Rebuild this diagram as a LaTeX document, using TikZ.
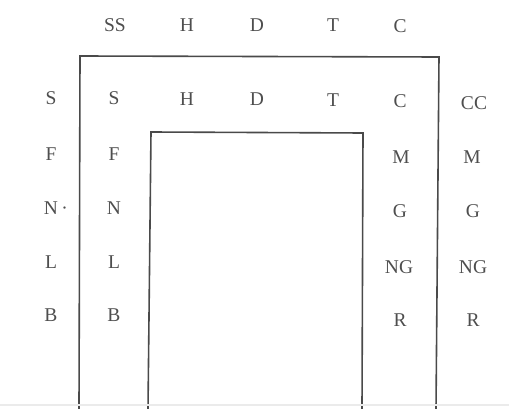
\documentclass[tikz,border=0pt]{standalone}
\usepackage{fontspec}
\setmainfont{Liberation Serif}
\definecolor{ink}{HTML}{4E4E4E}
\definecolor{frame}{HTML}{4A4A4A}
\begin{document}
\begin{tikzpicture}[x=1pt,y=-1pt,
  lbl/.style={text=ink,font=\fontsize{19.5}{19.5}\selectfont,inner sep=0pt,anchor=center},
  frm/.style={draw=frame,line width=1.6pt,line join=miter}]
\useasboundingbox (0,0) rectangle (509,409);
% top row
\node[lbl] (tSS) at (115,25) {SS};
\node[lbl] (tH) at (187,25) {H};
\node[lbl] (tD) at (257,25) {D};
\node[lbl] (tT) at (333,25) {T};
\node[lbl] (tC) at (400,26) {C};
% second row
\node[lbl] (oS) at (51,98) {S};
\node[lbl] (iS) at (114,98) {S};
\node[lbl] (iH) at (187,99) {H};
\node[lbl] (iD) at (257,99) {D};
\node[lbl] (iT) at (333,100) {T};
\node[lbl] (iC) at (400,101) {C};
\node[lbl] (oCC) at (474,103) {CC};
% left columns
\node[lbl] (oF) at (51,154) {F};
\node[lbl] (iF) at (114,154) {F};
\node[lbl] (oN) at (51,208) {N\rlap{\,·}};
\node[lbl] (iN) at (114,208) {N};
\node[lbl] (oL) at (51,262) {L};
\node[lbl] (iL) at (114,262) {L};
\node[lbl] (oB) at (51,315) {B};
\node[lbl] (iB) at (114,315) {B};
% right columns
\node[lbl] (iM) at (401,157) {M};
\node[lbl] (oM) at (472,157) {M};
\node[lbl] (iG) at (400,211) {G};
\node[lbl] (oG) at (473,211) {G};
\node[lbl] (iNG) at (399,267) {NG};
\node[lbl] (oNG) at (473,267) {NG};
\node[lbl] (iR) at (400,320) {R};
\node[lbl] (oR) at (473,320) {R};
% frames
\draw[frm] (79,409) -- (80,56) -- (439,57) -- (436,409);
\draw[frm] (148,409) -- (151,132) -- (363,133) -- (362,409);
% faint scan line at the bottom
\draw[black!8,line width=1.2pt] (0,405) -- (509,405);
\end{tikzpicture}
\end{document}
